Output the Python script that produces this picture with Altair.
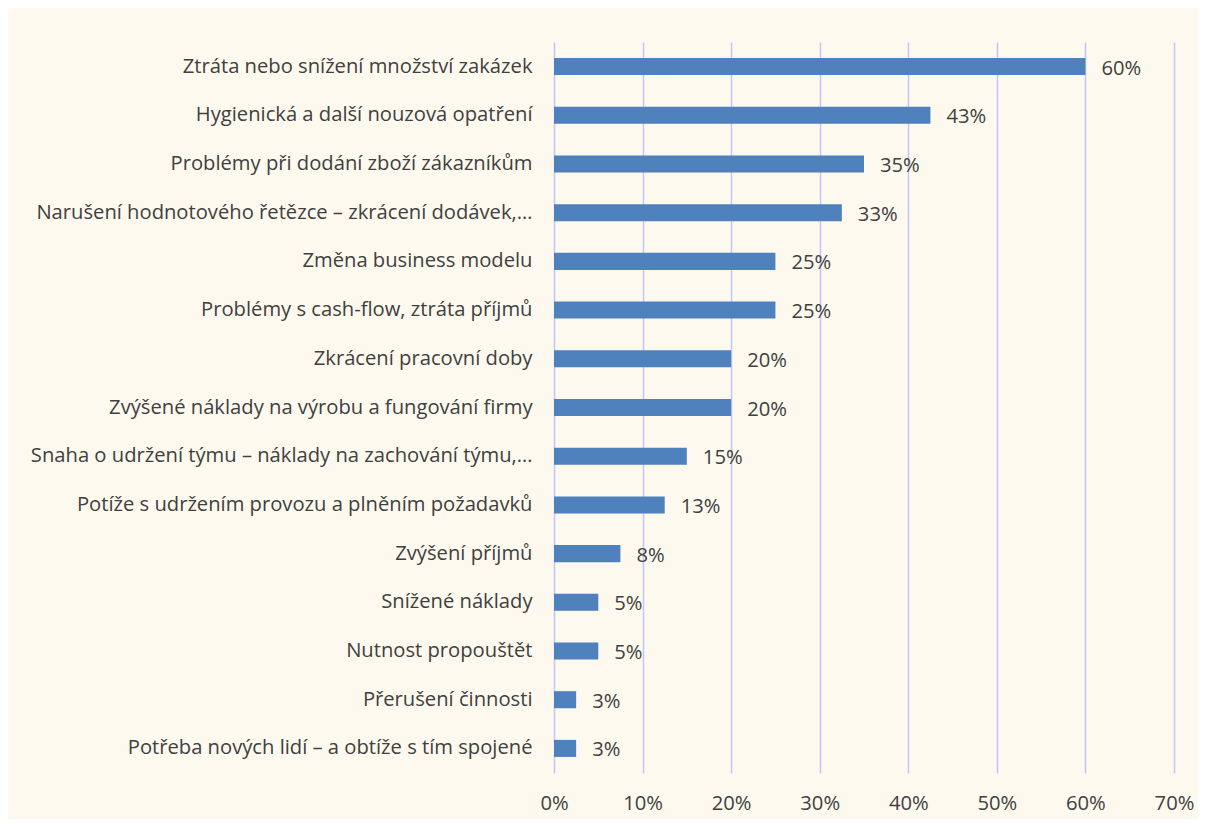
import altair as alt
import pandas as pd

categories = [
    "Ztráta nebo snížení množství zakázek",
    "Hygienická a další nouzová opatření",
    "Problémy při dodání zboží zákazníkům",
    "Narušení hodnotového řetězce – zkrácení dodávek,…",
    "Změna business modelu",
    "Problémy s cash-flow, ztráta příjmů",
    "Zkrácení pracovní doby",
    "Zvýšené náklady na výrobu a fungování firmy",
    "Snaha o udržení týmu – náklady na zachování týmu,…",
    "Potíže s udržením provozu a plněním požadavků",
    "Zvýšení příjmů",
    "Snížené náklady",
    "Nutnost propouštět",
    "Přerušení činnosti",
    "Potřeba nových lidí – a obtíže s tím spojené",
]
values = [60, 42.5, 35, 32.5, 25, 25, 20, 20, 15, 12.5, 7.5, 5, 5, 2.5, 2.5]
labels = ["60%", "43%", "35%", "33%", "25%", "25%", "20%", "20%", "15%", "13%",
          "8%", "5%", "5%", "3%", "3%"]

df = pd.DataFrame({"cat": categories, "val": values, "lab": labels})

FONT = "Open Sans"
TXT = "#404040"
FS = 20.2

y_enc = alt.Y("cat:N", sort=categories, title=None,
              scale=alt.Scale(paddingInner=0.65, paddingOuter=0.33),
              axis=alt.Axis(domain=False, ticks=False, labelFontSize=FS,
                            labelFont=FONT, labelColor=TXT, labelPadding=22,
                            labelLimit=600, grid=False))
x_enc = alt.X("val:Q", title=None,
              scale=alt.Scale(domain=[0, 70], nice=False),
              axis=alt.Axis(values=[0, 10, 20, 30, 40, 50, 60, 70],
                            labelExpr="datum.value + '%'",
                            labelFlush=False,
                            domain=False, ticks=False, grid=True,
                            gridColor="#C4C4FF", gridWidth=1.5,
                            labelFontSize=FS, labelFont=FONT, labelColor=TXT,
                            labelPadding=20))

bars = alt.Chart(df).mark_bar(color="#4F81BD").encode(x=x_enc, y=y_enc)
text = alt.Chart(df).mark_text(align="left", baseline="middle", dx=16, dy=2,
                               fontSize=FS, font=FONT, color=TXT).encode(
    x="val:Q", y=alt.Y("cat:N", sort=categories), text="lab:N")

chart = (bars + text).properties(
    width=620, height=731,
    autosize=alt.AutoSizeParams(type="none"),
    padding={"left": 546, "top": 34, "right": 24, "bottom": 46},
    background="#FEF9EE",
).configure_view(stroke=None)

chart.save("out.html", embed_options={"renderer": "svg", "actions": False})
